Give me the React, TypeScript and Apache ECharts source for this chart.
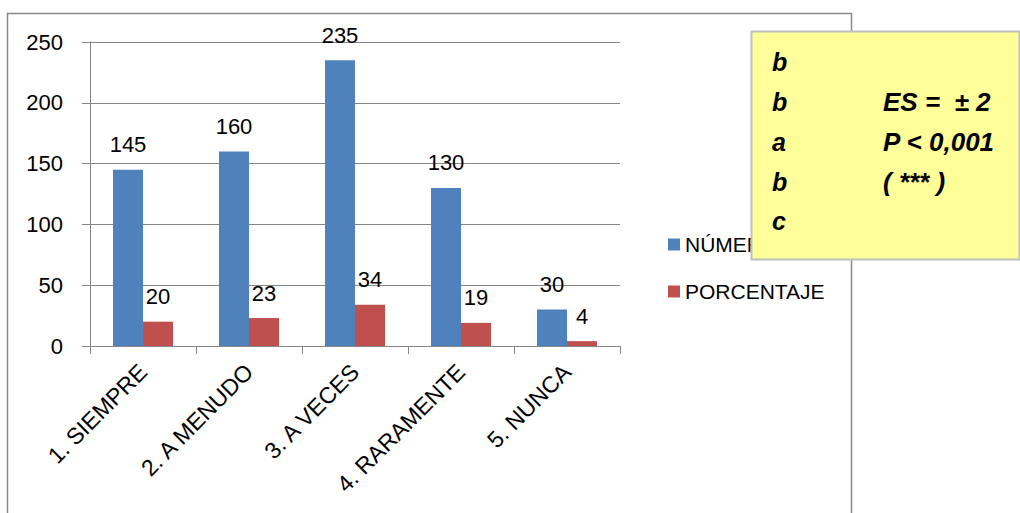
import React, { useEffect, useRef } from "react";
import * as echarts from "echarts";

const categories = ["1. SIEMPRE", "2. A MENUDO", "3. A VECES", "4. RARAMENTE", "5. NUNCA"];
const numeroValues = [145, 160, 235, 130, 30];
const porcentajeValues = [20, 23, 34, 19, 4];
const seriesNames = ["NÚMERO", "PORCENTAJE"];
const yTicks = { min: 0, max: 250, interval: 50 };
const boxLeftLetters = ["b", "b", "a", "b", "c"];
const boxRightLines = ["", "ES =  ± 2", "P < 0,001", "( *** )", ""];

const FONT = "'Liberation Sans', Arial, sans-serif";

export default function App() {
  const ref = useRef<HTMLDivElement>(null);
  useEffect(() => {
    if (!ref.current) return;
    const chart = echarts.init(ref.current, null, { renderer: "svg" });
    const rowY = [62, 102, 142, 182, 221];
    const boxTexts: any[] = [];
    boxLeftLetters.forEach((t, i) => {
      boxTexts.push({
        type: "text",
        x: 772,
        y: rowY[i],
        z: 101,
        style: {
          text: t,
          fill: "#000",
          font: `italic bold 25px ${FONT}`,
          verticalAlign: "middle",
          align: "left",
        },
      });
    });
    boxRightLines.forEach((t, i) => {
      if (!t) return;
      boxTexts.push({
        type: "text",
        x: 883,
        y: rowY[i],
        z: 101,
        style: {
          text: t,
          fill: "#000",
          font: `italic bold 26px ${FONT}`,
          verticalAlign: "middle",
          align: "left",
        },
      });
    });
    chart.setOption({
      animation: false,
      textStyle: { fontFamily: FONT },
      grid: { left: 90, right: 400, top: 42, bottom: 167, containLabel: false },
      legend: {
        orient: "vertical",
        left: 663,
        top: 229,
        itemWidth: 12,
        itemHeight: 12,
        itemGap: 26,
        icon: "rect",
        textStyle: { fontSize: 21, color: "#000", fontFamily: FONT },
        data: seriesNames,
      },
      xAxis: {
        type: "category",
        data: categories,
        axisLine: { show: true, lineStyle: { color: "#868686", width: 1 } },
        axisTick: { show: true, length: 8, alignWithLabel: false, lineStyle: { color: "#868686" } },
        axisLabel: { rotate: 45, fontSize: 23, color: "#000", margin: 22, interval: 0, fontFamily: FONT },
      },
      yAxis: {
        type: "value",
        min: yTicks.min,
        max: yTicks.max,
        interval: yTicks.interval,
        axisLine: { show: true, lineStyle: { color: "#868686", width: 1 } },
        axisTick: { show: true, length: 8, lineStyle: { color: "#868686" } },
        axisLabel: { fontSize: 22, color: "#000", margin: 27, fontFamily: FONT },
        splitLine: { show: true, lineStyle: { color: "#868686", width: 1 } },
      },
      series: [
        {
          name: seriesNames[0],
          type: "bar",
          data: numeroValues,
          barWidth: 30,
          barGap: "0%",
          itemStyle: { color: "#4F81BD" },
          label: { show: true, position: "top", distance: 14, fontSize: 22, color: "#000", fontFamily: FONT },
        },
        {
          name: seriesNames[1],
          type: "bar",
          data: porcentajeValues,
          barWidth: 30,
          barGap: "0%",
          itemStyle: { color: "#C0504D" },
          label: { show: true, position: "top", distance: 14, fontSize: 22, color: "#000", fontFamily: FONT },
        },
      ],
      graphic: [
        {
          type: "rect",
          z: 0,
          silent: true,
          shape: { x: 7.5, y: 13.5, width: 844, height: 520 },
          style: { fill: "none", stroke: "#888888", lineWidth: 1.5 },
        },
        {
          type: "rect",
          z: 100,
          shape: { x: 751.5, y: 31.5, width: 268, height: 228 },
          style: { fill: "#FFFF99", stroke: "#BFBFBF", lineWidth: 2 },
        },
        ...boxTexts,
      ],
    });
    return () => chart.dispose();
  }, []);
  return (
    <div
      ref={ref}
      style={{ position: "fixed", left: 0, top: 0, width: 1020, height: 513, background: "#fff" }}
    />
  );
}
